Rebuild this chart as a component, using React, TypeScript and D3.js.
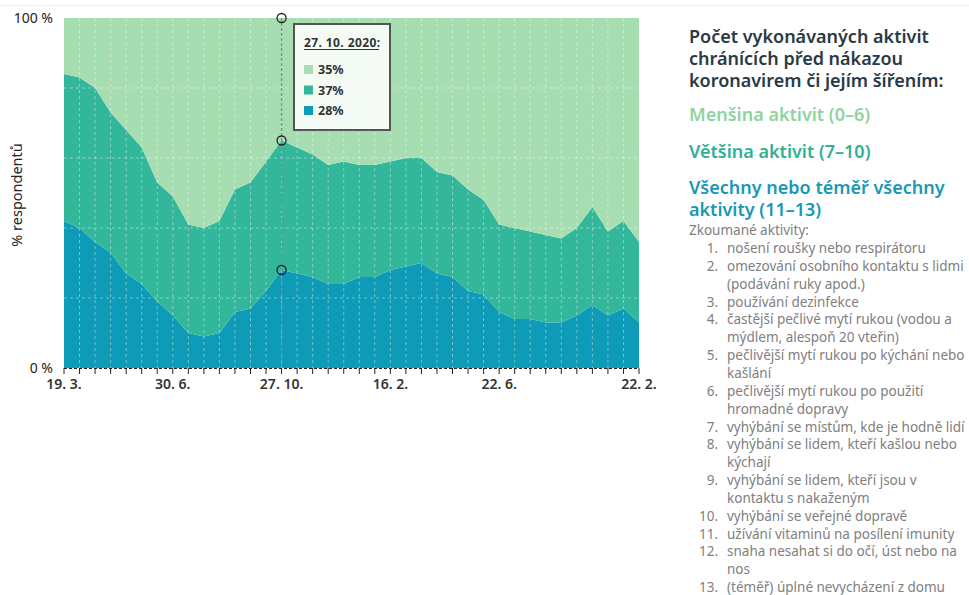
import React from "react";
import * as d3 from "d3";

// share of respondents (%) by number of protective activities, one value per survey wave
const blueValues = [42, 40, 36, 33, 27, 24, 19, 15, 10, 9, 10, 16, 17, 22, 28, 27, 26, 24, 24, 26, 26, 28, 29, 30, 27, 26, 22, 21, 16, 14, 14, 13, 13, 15, 18, 15, 17, 13];
const tealValues = [42, 43, 44, 40, 41, 39, 34, 34, 31, 31, 32, 35, 36, 37, 37, 36, 35, 34, 35, 32, 32, 31, 31, 30, 29, 29, 29, 27, 25, 26, 25, 25, 24, 25, 28, 24, 25, 23];
const greenValues = blueValues.map((b, i) => 100 - b - tealValues[i]);

const tickIndexes = [0, 7, 14, 21, 28, 37];
const tickLabels = ["19. 3.", "30. 6.", "27. 10.", "16. 2.", "22. 6.", "22. 2."];
const yTicks = [0, 20, 40, 60, 80, 100];

const hoverIndex = 14;
const hoverDate = "27. 10. 2020:";

const seriesKeys = ["blue", "teal", "green"];
const seriesColors = { blue: "#0d9bb7", teal: "#33b79b", green: "#a7deb1" };
const legendColors = { green: "#8fd3a0", teal: "#2fb196", blue: "#1898b6" };

const activities = [
  ["nošení roušky nebo respirátoru"],
  ["omezování osobního kontaktu s lidmi", "(podávání ruky apod.)"],
  ["používání dezinfekce"],
  ["častější pečlivé mytí rukou (vodou a", "mýdlem, alespoň 20 vteřin)"],
  ["pečlivější mytí rukou po kýchání nebo", "kašlání"],
  ["pečlivější mytí rukou po použití", "hromadné dopravy"],
  ["vyhýbání se místům, kde je hodně lidí"],
  ["vyhýbání se lidem, kteří kašlou nebo", "kýchají"],
  ["vyhýbání se lidem, kteří jsou v", "kontaktu s nakaženým"],
  ["vyhýbání se veřejné dopravě"],
  ["užívání vitaminů na posílení imunity"],
  ["snaha nesahat si do očí, úst nebo na", "nos"],
  ["(téměř) úplné nevycházení z domu"],
];

const font = "'Noto Sans', 'Open Sans', sans-serif";

export default function App() {
  const width = 969;
  const height = 595;
  const left = 64, right = 639, top = 18, bottom = 368;

  const table = blueValues.map((b, i) => ({ i, blue: b, teal: tealValues[i], green: greenValues[i] }));
  const stacked = d3.stack().keys(seriesKeys)(table as any);

  const x = d3.scaleLinear().domain([0, blueValues.length - 1]).range([left, right]);
  const y = d3.scaleLinear().domain([0, 100]).range([bottom, top]);

  const area = d3.area<any>()
    .x((d) => x(d.data.i))
    .y0((d) => y(d[0]))
    .y1((d) => y(d[1]));

  const hx = x(hoverIndex);
  const hoverPts = [100, blueValues[hoverIndex] + tealValues[hoverIndex], blueValues[hoverIndex]];
  const hoverRows = [
    { color: seriesColors.green, v: greenValues[hoverIndex] },
    { color: seriesColors.teal, v: tealValues[hoverIndex] },
    { color: seriesColors.blue, v: blueValues[hoverIndex] },
  ];

  // legend list layout
  const listLines: { num?: string; text: string }[] = [];
  activities.forEach((a, k) => a.forEach((t, j) => listLines.push({ num: j === 0 ? `${k + 1}.` : undefined, text: t })));
  const lineH = 17.85;

  return (
    <svg width={width} height={height} style={{ position: "absolute", left: 0, top: 0, background: "#fff" }} fontFamily={font}>
      <line x1={0} x2={width} y1={5.5} y2={5.5} stroke="#eeeeee" />

      {stacked.map((s) => (
        <path key={s.key} d={area(s as any) || ""} fill={(seriesColors as any)[s.key]} />
      ))}

      {/* grid */}
      <g stroke="#ffffff" strokeOpacity={0.4} strokeDasharray="3,3">
        {yTicks.filter((t) => t > 0 && t < 100).map((t) => (
          <line key={t} x1={left} x2={right} y1={y(t)} y2={y(t)} />
        ))}
        {blueValues.map((_, i) => (i > 0 && i < blueValues.length - 1 ? (
          <line key={i} x1={x(i)} x2={x(i)} y1={top} y2={bottom} />
        ) : null))}
      </g>

      {/* x axis */}
      <line x1={left} x2={right} y1={bottom + 0.5} y2={bottom + 0.5} stroke="#222" strokeDasharray="3,2" />
      {blueValues.map((_, i) => (
        <line key={i} x1={x(i)} x2={x(i)} y1={bottom} y2={bottom + 6} stroke="#222" />
      ))}
      {tickIndexes.map((ti, k) => (
        <text key={ti} x={x(ti)} y={389} textAnchor="middle" fontSize={14} fontWeight={600} fill="#333">{tickLabels[k]}</text>
      ))}

      {/* y axis */}
      <text x={53} y={y(100) + 5} textAnchor="end" fontSize={14} fill="#222">100 %</text>
      <text x={53} y={y(0) + 5} textAnchor="end" fontSize={14} fill="#222">0 %</text>
      <text transform={`translate(22,${(top + bottom) / 2 + 2}) rotate(-90)`} textAnchor="middle" fontSize={14.5} fill="#222">% respondentů</text>

      {/* hover marker */}
      <line x1={hx} x2={hx} y1={top} y2={bottom} stroke="#888" strokeDasharray="3,2" strokeWidth={1.3} />
      {hoverPts.map((v, k) => (
        <circle key={k} cx={hx} cy={y(v)} r={4.5} fill="none" stroke="#222" strokeWidth={1.3} />
      ))}
      <g>
        <rect x={294} y={24} width={96} height={106} fill="#fbfdfb" fillOpacity={0.92} stroke="#555" strokeWidth={2} />
        <text x={304} y={47} fontSize={12} fontWeight={700} fill="#333" letterSpacing={0.4}>{hoverDate}</text>
        <line x1={304} x2={379} y1={49.5} y2={49.5} stroke="#333" strokeWidth={1} />
        {hoverRows.map((r, k) => (
          <g key={k}>
            <rect x={304} y={65 + k * 20.5} width={9} height={9} fill={r.color} />
            <text x={318} y={74 + k * 20.5} fontSize={12.5} fontWeight={700} fill="#333">{r.v}%</text>
          </g>
        ))}
      </g>

      {/* legend */}
      <g fontWeight={600}>
        <text x={689} y={43} fontSize={18} fill="#2a3944">Počet vykonávaných aktivit</text>
        <text x={689} y={65} fontSize={18} fill="#2a3944">chránících před nákazou</text>
        <text x={689} y={87} fontSize={18} fill="#2a3944">koronavirem či jejím šířením:</text>
        <text x={689} y={121} fontSize={18} fill={legendColors.green}>Menšina aktivit (0–6)</text>
        <text x={689} y={158} fontSize={18} fill={legendColors.teal}>Většina aktivit (7–10)</text>
        <text x={689} y={194} fontSize={18} fill={legendColors.blue}>Všechny nebo téměř všechny</text>
        <text x={689} y={216} fontSize={18} fill={legendColors.blue}>aktivity (11–13)</text>
      </g>
      <text x={689} y={235} fontSize={13.5} fill="#808080">Zkoumané aktivity:</text>
      {listLines.map((l, k) => (
        <g key={k} fontSize={13.5} fill="#808080">
          {l.num && <text x={718} y={253 + k * lineH} textAnchor="end">{l.num}</text>}
          <text x={727} y={253 + k * lineH}>{l.text}</text>
        </g>
      ))}
    </svg>
  );
}
